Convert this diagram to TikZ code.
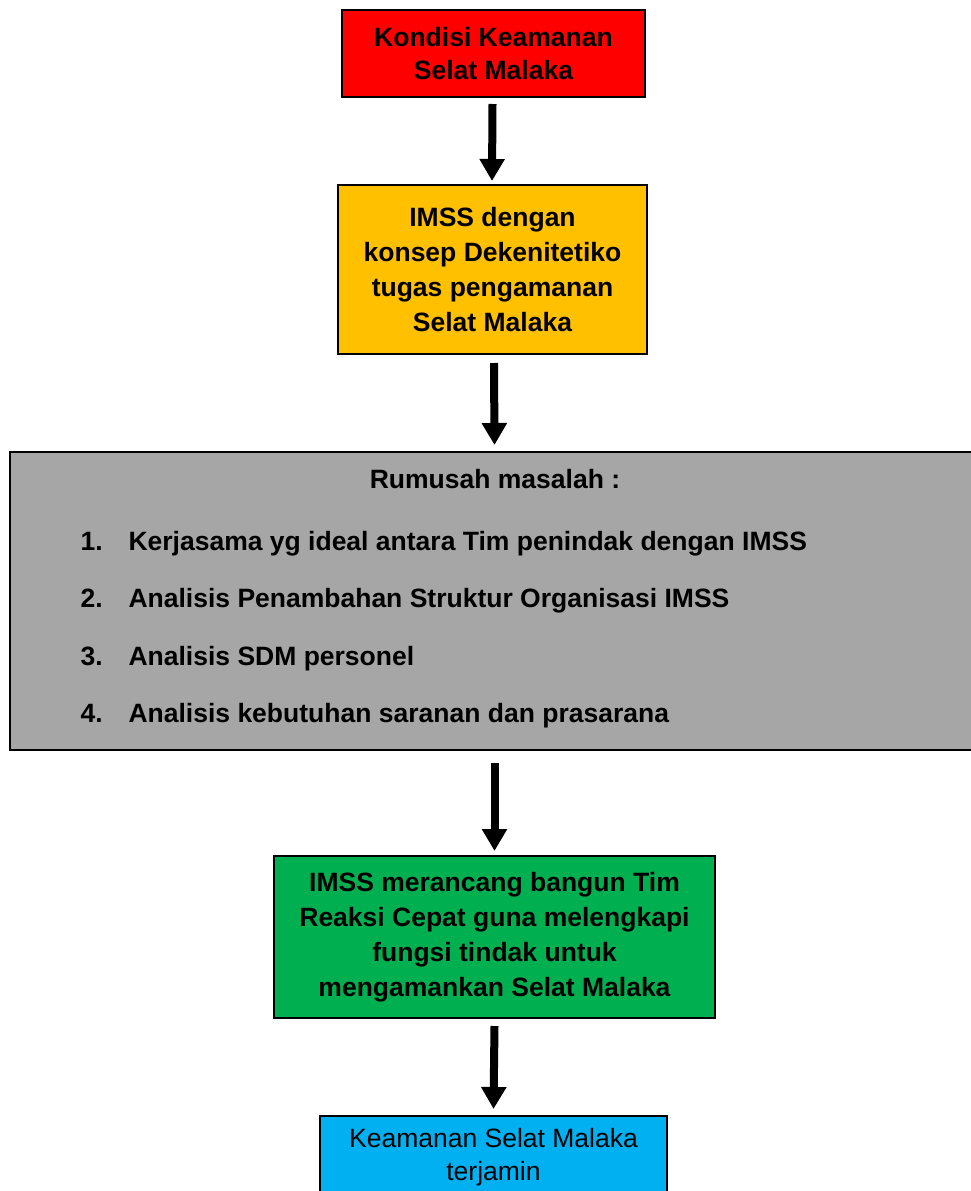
\documentclass[tikz,border=0pt]{standalone}
\usepackage{fontspec}
\setmainfont{Liberation Sans}
\usetikzlibrary{arrows.meta}
\definecolor{cred}{HTML}{FF0000}
\definecolor{corange}{HTML}{FFC000}
\definecolor{cgray}{HTML}{A6A6A6}
\definecolor{cgreen}{HTML}{00B050}
\definecolor{ccyan}{HTML}{00B0F0}
\begin{document}
\begin{tikzpicture}[x=1pt,y=-1pt,
  box/.style={draw=black,line width=2pt,inner sep=0pt,align=center},
  btext/.style={font=\bfseries\fontsize{26.5}{33}\selectfont},
  ntext/.style={font=\fontsize{26.5}{33}\selectfont},
  arr/.style={line width=8pt,-{Triangle[width=24pt,length=22pt]}},
  item/.style={anchor=base west,font=\bfseries\fontsize{26.5}{30}\selectfont}]
\useasboundingbox (0,0) rectangle (971,1191);
\node[box,fill=cred,btext,minimum width=303pt,minimum height=87pt] (red) at (493.5,53.5) {Kondisi Keamanan\\Selat Malaka};
\node[box,fill=corange,btext,minimum width=309pt,minimum height=169pt,font=\bfseries\fontsize{26.5}{35}\selectfont] (orange) at (492.5,269.5) {IMSS dengan\\konsep Dekenitetiko\\tugas pengamanan\\Selat Malaka};
\node[box,fill=cgray,minimum width=969pt,minimum height=298pt] (gray) at (494.5,601) {};
\node[btext] (title) at (495,479) {Rumusah masalah :};
\node[item] (n1) at (77,550) {1.};
\node[item] (t1) at (125,550) {Kerjasama yg ideal antara Tim penindak dengan IMSS};
\node[item] (n2) at (77,607) {2.};
\node[item] (t2) at (125,607) {Analisis Penambahan Struktur Organisasi IMSS};
\node[item] (n3) at (77,665) {3.};
\node[item] (t3) at (125,665) {Analisis SDM personel};
\node[item] (n4) at (77,722) {4.};
\node[item] (t4) at (125,722) {Analisis kebutuhan saranan dan prasarana};
\node[box,fill=cgreen,minimum width=441pt,minimum height=162pt,font=\bfseries\fontsize{26.5}{35}\selectfont] (green) at (494.5,937) {IMSS merancang bangun Tim\\Reaksi Cepat guna melengkapi\\fungsi tindak untuk\\mengamankan Selat Malaka};
\node[box,fill=ccyan,minimum width=347pt,minimum height=90pt] (cyan) at (493.5,1161) {};
\node[ntext,align=center] (ctext) at (493.5,1157) {Keamanan Selat Malaka\\terjamin};
\draw[arr] ([yshift=-6pt,xshift=-1pt]red.south) -- ([yshift=3pt,xshift=-0.5pt]orange.north);
\draw[arr] ([yshift=-8pt,xshift=1.5pt]orange.south) -- ([yshift=6pt]gray.north);
\draw[arr] ([yshift=-12pt]gray.south) -- ([yshift=4pt]green.north);
\draw[arr] ([yshift=-7pt]green.south) -- ([yshift=6pt]cyan.north);
\end{tikzpicture}
\end{document}
